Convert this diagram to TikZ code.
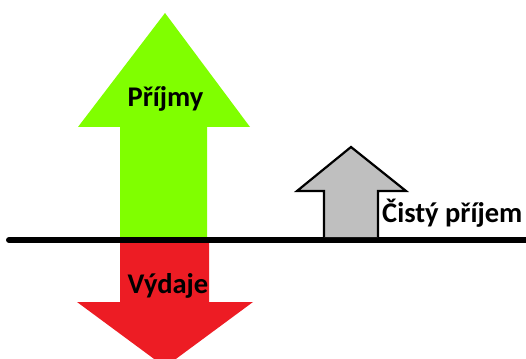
\documentclass[tikz,border=0pt]{standalone}
\usepackage{fontspec}
\setmainfont{Carlito}
\begin{document}
\begin{tikzpicture}[x=1pt,y=-1pt,
  lbl/.style={font=\bfseries\fontsize{28.5}{32}\selectfont, text=black, inner sep=0pt},
  netarrow/.style={draw=black, line width=2.2pt, fill=black!25, line join=miter}]
\useasboundingbox (0,0) rectangle (526,358);
\begin{scope}
\clip (0,0) rectangle (526,358);
% income arrow pointing up
\fill[fill={rgb,255:red,128;green,255;blue,0}]
  (120,240) -- (120,127) -- (78,127) -- (165,13) -- (250,127) -- (207,127) -- (207,240) -- cycle;
% expense arrow pointing down
\fill[fill={rgb,255:red,237;green,28;blue,36}]
  (120,240) -- (120,302) -- (77,302) -- (165,367) -- (253,302) -- (209,302) -- (209,240) -- cycle;
% baseline
\draw[line width=6pt, line cap=round] (9,240) -- (540,240);
% net income arrow
\draw[netarrow]
  (324,237) -- (324,191) -- (297,191) -- (351,147) -- (406,191) -- (378,191) -- (378,237);
\end{scope}
\node[lbl] (prijmy) at (165.5,99) {Příjmy};
\node[lbl] (vydaje) at (168,286) {Výdaje};
\node[lbl, anchor=west] (cisty) at (382,213) {Čistý příjem};
\end{tikzpicture}
\end{document}
